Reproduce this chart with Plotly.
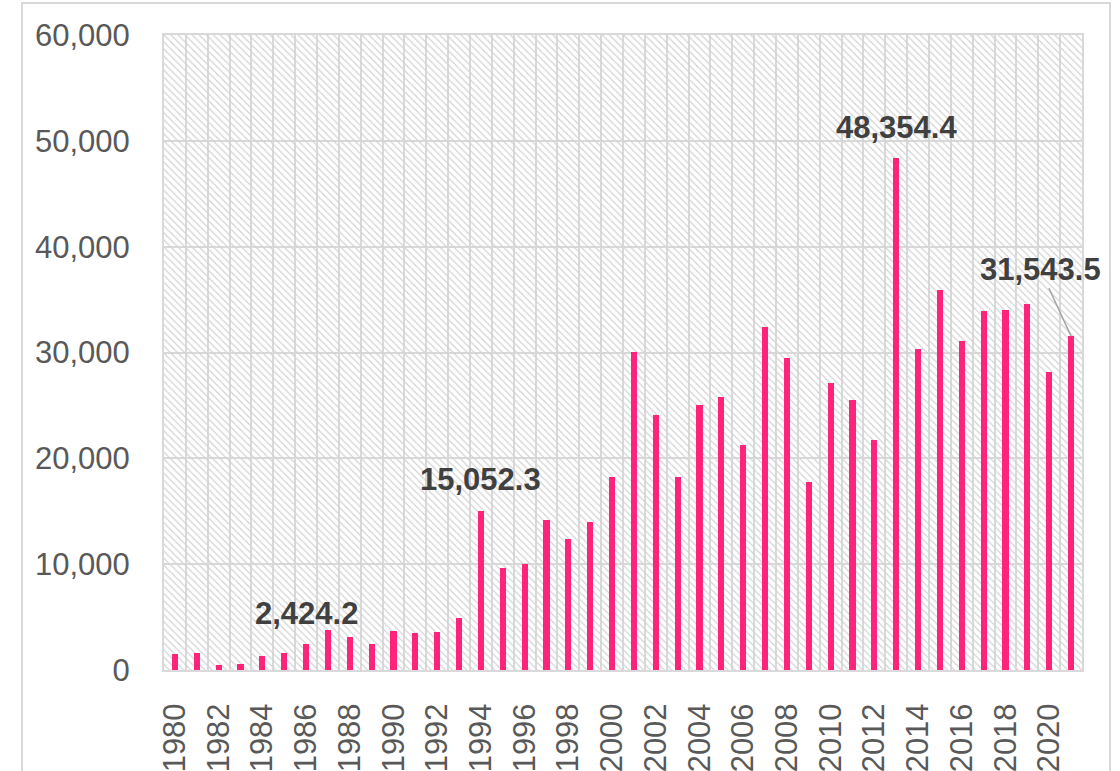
import plotly.graph_objects as go

years = list(range(1980, 2022))
values = [1520, 1620, 510, 600, 1370, 1650, 2424.2, 3810, 3080, 2410,
          3650, 3490, 3560, 4880, 15052.3, 9670, 10050, 14200, 12400, 13940,
          18260, 30090, 24130, 18260, 25000, 25800, 21230, 32400, 29470, 17800,
          27140, 25550, 21690, 48354.4, 30300, 35880, 31130, 33950, 34050, 34550,
          28140, 31543.5]
tick_years = list(range(1980, 2021, 2))
tick_labels = [str(y) for y in tick_years]
label_years = [1986, 1994, 2013]
leader_year = 2021

BAR = "#FF247A"
GRID = "#d9d9d9"
TICK = "#595959"
LABEL = "#404040"
FONT = "Liberation Sans, Arial, sans-serif"

x_lo, x_hi = years[0] - 0.5, years[-1] + 0.5
y_max = 60000

fig = go.Figure()
# hatched plot-area background
fig.add_trace(go.Bar(
    x=[(x_lo + x_hi) / 2], y=[y_max], width=[x_hi - x_lo],
    marker=dict(color="#d3d3d3", line=dict(width=0),
                pattern=dict(shape="\\", size=5, solidity=0.25, fillmode="replace")),
    hoverinfo="skip", showlegend=False))
fig.add_trace(go.Bar(
    x=years, y=values, width=0.28,
    marker=dict(color=BAR, line=dict(width=0)),
    showlegend=False))

annotations = []
for yr in label_years:
    v = values[years.index(yr)]
    annotations.append(dict(x=yr, y=v, xref="x", yref="y", text=f"<b>{v:,.1f}</b>",
                            showarrow=False, yanchor="middle", yshift=31,
                            font=dict(family=FONT, size=31, color=LABEL)))
v = values[years.index(leader_year)]
annotations.append(dict(x=leader_year, y=v, xref="x", yref="y", text=f"<b>{v:,.1f}</b>",
                        showarrow=True, arrowhead=0, arrowwidth=1.5,
                        arrowcolor="#a6a6a6", ax=-31, ay=-67, standoff=0,
                        font=dict(family=FONT, size=31, color=LABEL)))

L, R, T, B = 164, 38, 35, 101
W, H = 1120, 771
pw, ph = W - L - R, H - T - B

fig.update_layout(
    width=W, height=H, barmode="overlay", bargap=0,
    margin=dict(l=L, r=R, t=T, b=B, pad=0, autoexpand=False),
    paper_bgcolor="white", plot_bgcolor="white",
    font=dict(family=FONT, color=TICK),
    annotations=annotations,
    shapes=[dict(type="rect", xref="paper", yref="paper",
                 x0=(22 - L) / pw, x1=(1110 - L) / pw,
                 y0=-0.5, y1=(H - B - 3) / ph,
                 line=dict(color=GRID, width=2), fillcolor="rgba(0,0,0,0)",
                 layer="below")],
    xaxis=dict(range=[x_lo, x_hi], tickmode="array", tickvals=tick_years,
               ticktext=tick_labels, tickangle=-90, showgrid=False,
               automargin=False,
               ticks="outside", ticklen=19, tickcolor="rgba(0,0,0,0)",
               tickfont=dict(family=FONT, size=31, color=TICK),
               showline=True, mirror=True, linecolor=GRID, linewidth=2,
               minor=dict(tick0=x_lo, dtick=1, showgrid=True,
                          gridcolor=GRID, gridwidth=2, ticks="")),
    yaxis=dict(range=[0, y_max], dtick=10000, tickformat=",",
               automargin=False,
               showgrid=True, gridcolor=GRID, gridwidth=2, zeroline=False,
               ticks="outside", ticklen=26, tickcolor="rgba(0,0,0,0)",
               tickfont=dict(family=FONT, size=31, color=TICK),
               showline=True, mirror=True, linecolor=GRID, linewidth=2),
)

fig.write_html("out.html", config={"displayModeBar": False},
               post_script="document.body.style.margin='0';")
